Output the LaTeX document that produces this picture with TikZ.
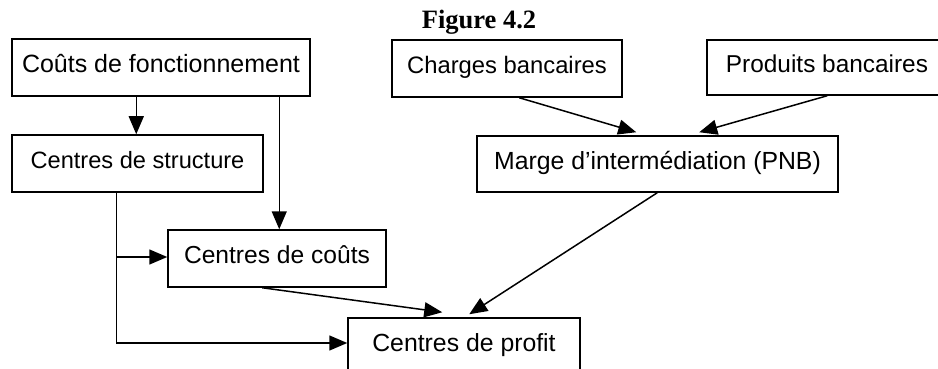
\documentclass[tikz,border=0pt]{standalone}
\usepackage{fontspec}
\setmainfont{Liberation Sans}
\newfontfamily\titlefont{Liberation Serif}
\usetikzlibrary{arrows.meta}
\tikzset{
  box/.style={draw, line width=1.5pt, inner sep=0pt, minimum height=57pt,
    text height=17pt, text depth=7pt, font=\fontsize{24.5}{28}\selectfont},
  arr/.style={line width=1.5pt, -{Triangle[length=18pt,width=15pt]}}
}
\begin{document}
\begin{tikzpicture}[x=1pt,y=-1pt]
\clip (0,0) rectangle (938,369);
\fill[white] (0,0) rectangle (938,369);
\node[anchor=base, font=\titlefont\bfseries\fontsize{26.5}{30}\selectfont] (title) at (479,29) {Figure 4.2};
\node[box, minimum width=298pt, font=\fontsize{25}{28}\selectfont] (cf) at (161,67.5) {Coûts de fonctionnement};
\node[box, minimum width=251pt, font=\fontsize{23.6}{28}\selectfont] (cs) at (137.5,163.5) {Centres de structure};
\node[box, minimum width=218pt, font=\fontsize{24.6}{28}\selectfont] (cc) at (277,258.5) {Centres de coûts};
\node[box, minimum width=232pt, font=\fontsize{24.8}{28}\selectfont] (cp) at (464,346.5) {Centres de profit};
\node[box, minimum width=230pt, font=\fontsize{23.8}{28}\selectfont] (ch) at (507,68.5) {Charges bancaires};
\node[box, minimum width=240pt, minimum height=55pt, font=\fontsize{24.4}{28}\selectfont] (pb) at (827,67.5) {Produits bancaires};
\node[box, minimum width=361pt, minimum height=56pt, font=\fontsize{24.8}{28}\selectfont] (mg) at (657.5,164) {Marge d’intermédiation (PNB)};
% left side
\draw[arr] ([xshift=125pt]cf.south west) -- ([xshift=125pt]cs.north west);
\draw[arr] ([xshift=268pt]cf.south west) -- ([xshift=112pt]cc.north west);
\draw[arr] ([xshift=105pt]cs.south west) |- ([yshift=1.5pt]cc.west);
\draw[arr] ([xshift=105pt]cs.south west) |- ([yshift=3.5pt]cp.west);
\draw[arr] ([xshift=95pt]cc.south west) -- ([xshift=95pt,yshift=5pt]cp.north west);
% right side
\draw[arr] ([xshift=128pt]ch.south west) -- ([xshift=160pt,yshift=3pt]mg.north west);
\draw[arr] ([xshift=121pt]pb.south west) -- ([xshift=223pt,yshift=3pt]mg.north west);
\draw[arr] ([xshift=181pt]mg.south west) -- ([xshift=122pt,yshift=3pt]cp.north west);
\end{tikzpicture}
\end{document}
